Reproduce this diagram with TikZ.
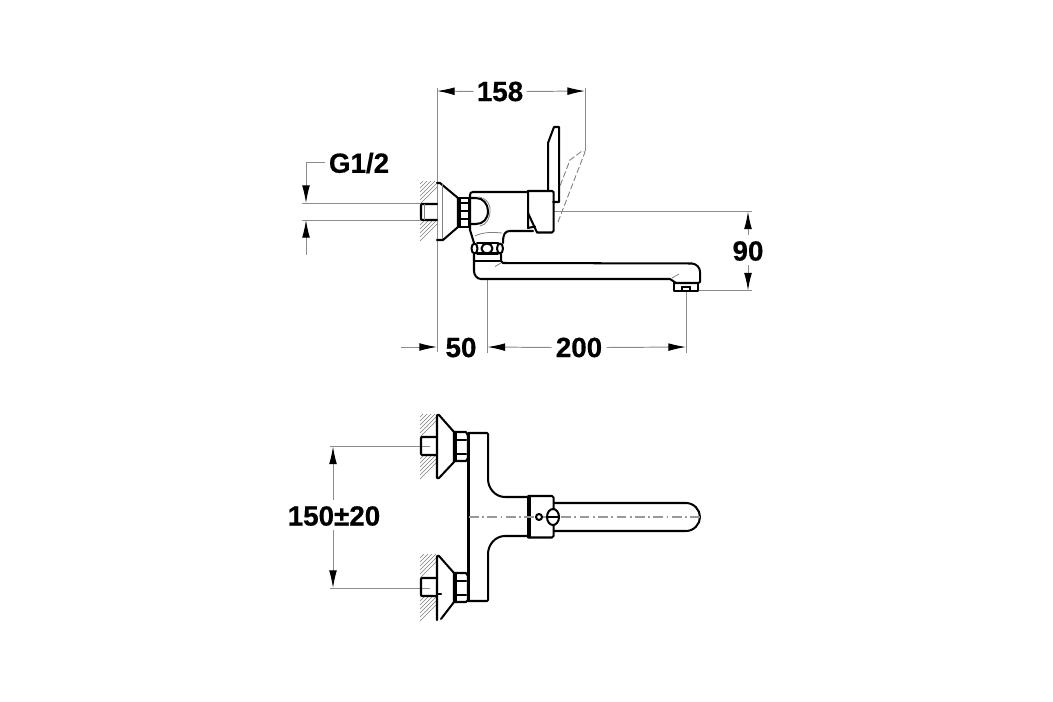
\documentclass[tikz,border=0pt]{standalone}
\usepackage{fontspec}
\setmainfont{Liberation Sans}[BoldFeatures={FakeBold=0.5}]
\usetikzlibrary{arrows.meta}
\tikzset{
  x=0.02cm,y=-0.02cm,
  thick line/.style={line width=1.15pt,black,line join=round,line cap=round},
  dimline/.style={line width=0.55pt,black!45},
  center line/.style={line width=0.6pt,black!40,dash pattern=on 5.5pt off 2pt on 1pt off 2pt},
  thinline/.style={line width=0.45pt,black!50},
  dashline/.style={line width=0.5pt,black!50,dash pattern=on 3.5pt off 1.5pt},
  hatchline/.style={line width=0.28pt,black!50},
  tipped/.style={-{Latex[length=10pt,width=4.4pt,color=black]}},
  dimtext/.style={font=\fontsize{15.8pt}{16pt}\selectfont\bfseries,inner sep=0pt,text=black}
}
\newcommand{\hatchbox}[4]{%
  \begin{scope}
    \clip (#1,#2) rectangle (#3,#4);
    \foreach \k in {0,4,...,110}{
      \draw[hatchline] (#1-5,#4-\k+5) -- ++(40,-40);
    }
  \end{scope}}
\begin{document}
\begin{tikzpicture}
\useasboundingbox (0,0) rectangle (1053,702);
\fill[white] (0,0) rectangle (1053,702);

% ---------- side view: wall hatch
\hatchbox{420}{182}{437}{204}
\hatchbox{420}{220}{437}{241}

% ---------- side view: dimension lines
\draw[dimline] (437,88) -- (437,352);
\draw[dimline] (585,88) -- (585,151);
\draw[dimline] (487,278) -- (487,353);
\draw[dimline] (686,291) -- (686,353);
\draw[dimline] (302,203) -- (421,203);
\draw[dimline] (302,220) -- (421,220);
\draw[dimline] (553,211) -- (752,211);
\draw[dimline] (698,290.5) -- (752,290.5);

\node[dimtext] (d158) at (500,91.5) {158};
\node[dimtext] (d90) at (748,251) {90};
\node[dimtext] (d50) at (461,347.5) {50};
\node[dimtext] (d200) at (579,347.5) {200};
\node[dimtext] (dG) at (359,163) {G1/2};
\node[dimtext] (d150) at (334,516) {150±20};

\coordinate (t1) at (437,91);
\coordinate (t2) at (585,91);
\draw[dimline,tipped] (d158.west)++(-3,0) -- (t1);
\draw[dimline,tipped] (d158.east)++(3,0) -- (t2);
\coordinate (r1) at (748,211.5);
\coordinate (r2) at (748,290.5);
\draw[dimline,tipped] (748,235) -- (r1);
\draw[dimline,tipped] (748,265) -- (r2);
\coordinate (l1) at (401,347);
\coordinate (l2) at (437,347);
\draw[dimline,tipped] (l1) -- (l2);
\coordinate (m2) at (487.5,347);
\draw[dimline,tipped] (d200.west)++(-4,0) -- (m2);
\draw[dimline,tipped] (d200.east)++(4,0) -- (686,347);
\draw[dimline] (325,162) -- (306,162) -- (306,180);
\draw[dimline,tipped] (306,180) -- (306,203);
\draw[dimline,tipped] (306,255) -- (306,220);

% ---------- side view: handle (dashed open position)
\draw[dashline] (558,222) -- (585,152) -- (582,151) -- (570,160) -- (560,186);
% ---------- side view: lever
\draw[thick line] (548,190) -- (548,143) -- (554,127) -- (559,127) -- (559,202) -- (553,202);

% stud
\draw[thick line] (437,204) -- (422,204) -- (421,205) -- (421,219) -- (422,220) -- (437,220);
\draw[thinline] (424,204) -- (424,220);
% escutcheon
\draw[thick line] (437,183) -- (440,183) -- (458,198) -- (458,227) -- (443,240) -- (437,240);
\draw[thinline] (442,184) -- (442,239);
% nut
\draw[thick line] (458,198) -- (470,198);
\draw[thick line] (458,227) -- (470,227);
\draw[thick line] (460,198) -- (460,227);
\draw[thick line] (469,198) -- (469,227);
\draw[line width=0.6pt] (458,203) -- (469,203) (458,211) -- (469,211) (458,219) -- (469,219);
% body
\draw[thick line] (474,243) -- (470,230) -- (470,195) .. controls (470,193) and (471,192) .. (473,192) -- (528,192);
\draw[thick line] (471,198) -- (476,198) .. controls (483,198) and (488,204) .. (488,211)
   .. controls (488,219) and (483,224) .. (476,224) -- (471,224);
\draw[thinline] (478,197) .. controls (487,198) and (491,205) .. (490,211) .. controls (490,219) and (486,225) .. (480,226);
\draw[thick line] (503,243) .. controls (503,234) and (505,231) .. (510,231) -- (533,231);
\draw[thinline] (475,236) .. controls (483,232) and (492,232) .. (502,233);
% handle block
\draw[thick line] (528,191) -- (552,191) -- (553.5,192) -- (553.5,231) -- (552,232.5) -- (537,232.5) -- (528,213);
\draw[thick line] (528,191) -- (528,228) -- (535,226.5);
% ring
\draw[thick line] (477,243) -- (498,243);
\draw[thick line] (477,253.5) -- (498,253.5);
\draw[thick line] (474.5,248.5) ellipse (3 and 5);
\draw[thick line] (500,248.5) ellipse (3 and 5);
\draw[thick line] (487,248.5) ellipse (5.5 and 5);
% spout
\draw[thick line] (474,254) -- (474,271) .. controls (474,275) and (477,279) .. (481,279) -- (670,279) -- (676,283);
\draw[thick line] (501,254) -- (501,261) -- (503,263) -- (692,263.5) .. controls (697,264) and (700,268) .. (700,272) -- (700,282) -- (698,283) -- (674,283);
\draw[thick line] (474,261) -- (501,261);
\draw[thinline] (495,266.5) -- (501,263);
\draw[thinline] (679,274) -- (672,278);
% aerator
\draw[thick line] (674,283) -- (674,291) -- (698,291) -- (698,283);
\draw[line width=0.7pt] (682,287) rectangle (690,291);

% ---------- front view
\draw[dimline] (330,446) -- (430,446);
\draw[dimline] (330,588) -- (430,588);
\draw[dimline,tipped] (333,500) -- (333,446.5);
\draw[dimline,tipped] (333,530) -- (333,588);

% upper fitting
\hatchbox{420}{414}{437}{437}
\hatchbox{420}{455}{437}{479}
\draw[thick line] (437,437) -- (422,437) -- (421,438) -- (421,454) -- (422,455) -- (437,455);
\draw[thick line] (437,415) -- (439,415) -- (454,432) -- (454,462) -- (439,478) -- (437,478) -- cycle;
\draw[thick line] (454,432) -- (466,432) -- (468,436) -- (468,458) -- (466,461) -- (454,461);
\draw[thick line] (456,440) -- (466,440) (456,454) -- (466,454);
\draw[thick line] (456,432) -- (456,461);

% lower fitting
\hatchbox{420}{554}{437}{578}
\hatchbox{420}{596}{437}{621}
\draw[thick line] (437,578) -- (422,578) -- (421,579) -- (421,595) -- (422,596) -- (437,596);
\draw[thick line] (437,620) -- (437,556) -- (439,556) -- (454,573) -- (454,602) -- (441,619);
\draw[thick line] (454,573) -- (466,573) -- (468,576) -- (468,600) -- (466,602) -- (454,602);
\draw[thick line] (456,581) -- (466,581) (456,595) -- (466,595);
\draw[thick line] (456,573) -- (456,602);
\draw[thick line] (437,594) -- (441,594);

% body
\draw[thick line] (468.5,433) -- (487,433) -- (488,434) -- (488,479)
  .. controls (488,488) and (495,497) .. (505,497) -- (527,497);
\draw[thick line] (527,536) -- (505,536)
  .. controls (495,536) and (488,545) .. (488,554) -- (488,600) -- (487,601) -- (468.5,601);
\draw[thick line] (468.5,433) -- (468.5,601);

% collar
\draw[thick line] (528,496) -- (552,496) -- (553.5,497.5) -- (553.5,536) -- (552,537.5) -- (528,537.5) -- cycle;
\draw[thick line] (529.5,496) -- (529.5,537.5);
% spout
\draw[thick line] (554,503) -- (686,503) .. controls (694,503) and (700,510) .. (700,517)
  .. controls (700,524) and (694,531) .. (686,531) -- (554,531);
% centre line
\draw[center line] (469,517) -- (700,517);
% hole and screw
\draw[thick line,fill=white] (539,517) circle (3);
\draw[thick line,fill=white] (553,517) ellipse (6 and 8);
\draw[line width=0.7pt] (547,517) -- (559,517);
\end{tikzpicture}
\end{document}
